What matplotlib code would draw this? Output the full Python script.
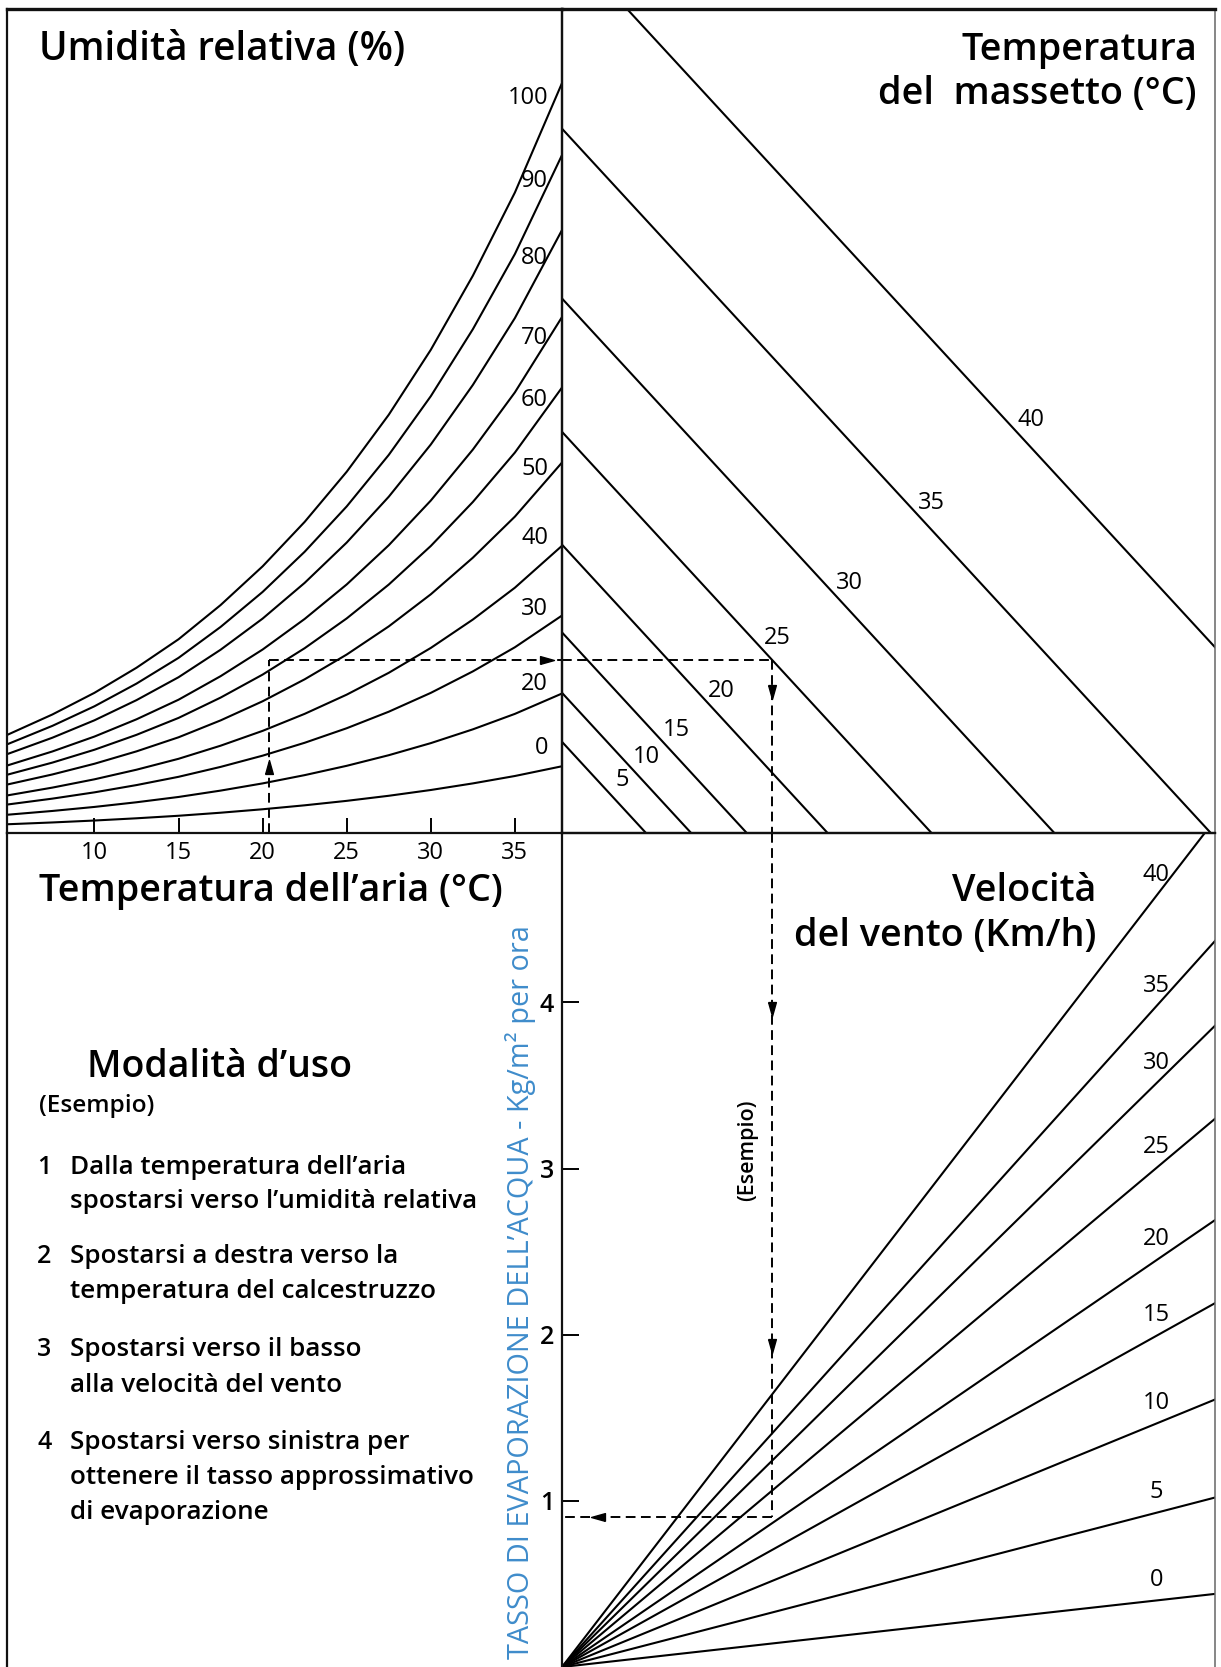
import numpy as np
import matplotlib
matplotlib.use("Agg")
import matplotlib.pyplot as plt
from matplotlib.path import Path

plt.rcParams['font.family'] = ['Open Sans', 'DejaVu Sans']

# ---------------- data ----------------
air_temp_ticks = [10, 15, 20, 25, 30, 35]
air_temp_min, air_temp_max = 4.8, 37.8

# vapour pressure along the saturation (100 %) curve, kPa
sat_temp = [4.8, 7.5, 10.0, 12.5, 15.0, 17.5, 20.0, 22.5, 25.0, 27.5, 30.0, 32.5, 35.0, 37.8]
sat_vp = [0.86, 1.04, 1.23, 1.45, 1.70, 2.00, 2.34, 2.73, 3.17, 3.67, 4.24, 4.89, 5.62, 6.58]

rh_levels = [100, 90, 80, 70, 60, 50, 40, 30, 20, 10]
rh_labels = ["100", "90", "80", "70", "60", "50", "40", "30", "20", "0"]
# fraction of the saturation curve reached by each humidity curve (read at the divider)
rh_fraction = [1.0, 0.904, 0.804, 0.688, 0.594, 0.494, 0.383, 0.290, 0.186, 0.089]

# concrete (screed) temperature lines: vapour pressure where the line meets the divider
concrete_temps = [5, 10, 15, 20, 25, 30, 35, 40]
concrete_vp0 = [0.80, 1.23, 1.76, 2.53, 3.52, 4.69, 6.18, 7.85]

# wind-speed lines: evaporation rate reached at the right edge of the chart
wind_speeds = [0, 5, 10, 15, 20, 25, 30, 35, 40]
wind_rate_at_edge = [0.44, 1.02, 1.61, 2.19, 2.69, 3.30, 3.86, 4.37, 5.10]

evap_ticks = [1, 2, 3, 4]

# worked example
example_air_temp = 20.4
example_vp = 1.52
example_concrete = 25
example_rate = 0.90

# axis extents
vp_max = 7.23      # top of upper panels (kPa)
dp_max = 6.22      # right edge (vapour pressure difference)
evap_max = 5.02    # top of the evaporation panel

# ---------------- layout ----------------
W, H = 1221, 1667
fig = plt.figure(figsize=(W / 100, H / 100), dpi=100)
L, XD, R = 7, 562, 1215
T, YD, B = 9, 833, 1667


def add_ax(x0, y0, x1, y1):
    return fig.add_axes([x0 / W, 1 - y1 / H, (x1 - x0) / W, (y1 - y0) / H])


def ftext(x, y, s, **kw):
    return fig.text(x / W, 1 - y / H, s, **kw)


ax_tl = add_ax(L, T, XD, YD)
ax_tr = add_ax(XD, T, R, YD)
ax_br = add_ax(XD, YD, R, B)
ax_bl = add_ax(L, YD, XD, B)

LW = 1.5
SP = 1.6
for ax in (ax_tl, ax_tr, ax_br, ax_bl):
    ax.set_facecolor('none')
    for s in ax.spines.values():
        s.set_linewidth(SP)
        s.set_color('#111111')
    ax.spines['bottom'].set_visible(False)
for ax in (ax_tl, ax_tr):
    ax.spines['top'].set_linewidth(2.4)
    ax.spines['bottom'].set_visible(True)
for ax in (ax_tr, ax_br):
    ax.spines['right'].set_color('#666666')
    ax.spines['right'].set_linewidth(1.1)
ax_bl.spines['top'].set_visible(False)
ax_bl.spines['right'].set_visible(False)

NUM = 17

# ---- top-left: relative humidity curves ----
ax_tl.set_xlim(air_temp_min, air_temp_max)
ax_tl.set_ylim(0, vp_max)
st = np.array(sat_temp)
sv = np.array(sat_vp)
for fr in rh_fraction:
    ax_tl.plot(st, sv * fr, color='black', lw=LW, solid_capstyle='butt')
ax_tl.set_xticks(air_temp_ticks)
ax_tl.set_xticklabels([str(t) for t in air_temp_ticks])
ax_tl.tick_params(axis='x', direction='in', length=11, width=1.4, labelsize=NUM, pad=6)
ax_tl.set_yticks([])

rh_label_dy = [-15, -26, -28, -21, -12, -6, 8, 7, 10, 18]
for fr, lab, dy in zip(rh_fraction, rh_labels, rh_label_dy):
    yend = sv[-1] * fr
    ax_tl.annotate(lab, xy=(air_temp_max, yend), xytext=(-10, dy * 0.72),
                   textcoords='offset points', ha='right', va='center', fontsize=NUM)

# ---- top-right: concrete temperature lines ----
ax_tr.set_xlim(0, dp_max)
ax_tr.set_ylim(0, vp_max)
ax_tr.set_xticks([])
ax_tr.set_yticks([])
for c in concrete_vp0:
    xs = np.array([0.0, c])
    ax_tr.plot(xs, c - xs, color='black', lw=LW)
concrete_label_vp = [0.465, 0.667, 0.904, 1.246, 1.711, 2.193, 2.895, 3.623]
for temp, c, yl in zip(concrete_temps, concrete_vp0, concrete_label_vp):
    ax_tr.annotate(str(temp), xy=(c - yl, yl), xytext=(18, 0), textcoords='offset points',
                   ha='center', va='center', fontsize=NUM)

# ---- bottom-right: wind speed lines ----
ax_br.set_xlim(0, dp_max)
ax_br.set_ylim(0, evap_max)
ax_br.set_xticks([])
for v, e in zip(wind_speeds, wind_rate_at_edge):
    ax_br.plot([0, dp_max], [0, e], color='black', lw=LW)
x_lab = 5.66
for v, e in zip(wind_speeds, wind_rate_at_edge):
    ax_br.annotate(str(v), xy=(x_lab, e / dp_max * x_lab), xytext=(0, 15),
                   textcoords='offset points', ha='center', va='center', fontsize=NUM)
ax_br.set_yticks(evap_ticks)
ax_br.set_yticklabels([str(t) for t in evap_ticks])
ax_br.tick_params(axis='y', direction='in', length=12, width=1.4, labelsize=18, pad=5.5)
for lbl in ax_br.get_yticklabels():
    lbl.set_fontweight('semibold')

ax_bl.set_xticks([])
ax_bl.set_yticks([])

# ---- worked example (dashed path) ----
dash = dict(color='black', lw=1.4, linestyle=(0, (5, 2.8)))
c_ex = concrete_vp0[concrete_temps.index(example_concrete)]
dp_ex = c_ex - example_vp
ax_tl.plot([example_air_temp, example_air_temp], [0, example_vp], **dash)
ax_tl.plot([example_air_temp, air_temp_max], [example_vp, example_vp], **dash)
ax_tr.plot([0, dp_ex], [example_vp, example_vp], **dash)
ax_tr.plot([dp_ex, dp_ex], [example_vp, 0], **dash)
ax_br.plot([dp_ex, dp_ex], [evap_max, example_rate], **dash)
ax_br.plot([dp_ex, 0], [example_rate, example_rate], **dash)

head_up = Path([(-0.28, -0.5), (0.28, -0.5), (0, 0.5), (-0.28, -0.5)])
head_dn = Path([(-0.28, 0.5), (0.28, 0.5), (0, -0.5), (-0.28, 0.5)])
head_rt = Path([(-0.5, -0.28), (-0.5, 0.28), (0.5, 0), (-0.5, -0.28)])
head_lt = Path([(0.5, -0.28), (0.5, 0.28), (-0.5, 0), (0.5, -0.28)])
mk = dict(color='black', markersize=10, linestyle='none')
ax_tl.plot([example_air_temp], [0.58], marker=head_up, **mk)
ax_tl.plot([36.9], [example_vp], marker=head_rt, **mk)
ax_tr.plot([dp_ex], [1.237], marker=head_dn, **mk)
ax_br.plot([dp_ex, dp_ex], [3.96, 1.93], marker=head_dn, **mk)
ax_br.plot([0.34], [example_rate], marker=head_lt, **mk)
ax_br.text(1.77, 3.11, "(Esempio)", rotation=90, ha='center', va='center', fontsize=15.5,
           fontweight='semibold')

# ---------------- texts ----------------
TW = 'semibold'
TS = 27.2
ftext(39, 50, "Umidità relativa (%)", ha='left', va='center', fontsize=27.8, fontweight=TW)
ftext(1197, 50, "Temperatura", ha='right', va='center', fontsize=TS, fontweight=TW)
ftext(1197, 94, "del  massetto (°C)", ha='right', va='center', fontsize=TS, fontweight=TW)
ftext(39, 891, "Temperatura dell’aria (°C)", ha='left', va='center', fontsize=TS, fontweight=TW)
ftext(1096, 891, "Velocità", ha='right', va='center', fontsize=TS, fontweight=TW)
ftext(1096, 936, "del vento (Km/h)", ha='right', va='center', fontsize=TS, fontweight=TW)
ftext(87, 1067, "Modalità d’uso", ha='left', va='center', fontsize=27, fontweight=TW)
ftext(39, 1106, "(Esempio)", ha='left', va='center', fontsize=17.6, fontweight='semibold')

steps = [
    ("1", ["Dalla temperatura dell’aria", "spostarsi verso l’umidità relativa"], 1167),
    ("2", ["Spostarsi a destra verso la", "temperatura del calcestruzzo"], 1256),
    ("3", ["Spostarsi verso il basso", "alla velocità del vento"], 1350),
    ("4", ["Spostarsi verso sinistra per", "ottenere il tasso approssimativo",
           "di evaporazione"], 1442),
]
for num, lines, y0 in steps:
    ftext(37, y0, num, ha='left', va='center', fontsize=18, fontweight='semibold')
    for i, ln in enumerate(lines):
        ftext(70, y0 + i * 35, ln, ha='left', va='center', fontsize=18.7, fontweight='semibold')

ftext(521, 1292, "TASSO DI EVAPORAZIONE DELL’ACQUA - Kg/m² per ora", rotation=90,
      ha='center', va='center', fontsize=20.8, color='#3f8ccb')

fig.savefig("out.png", dpi=100)
